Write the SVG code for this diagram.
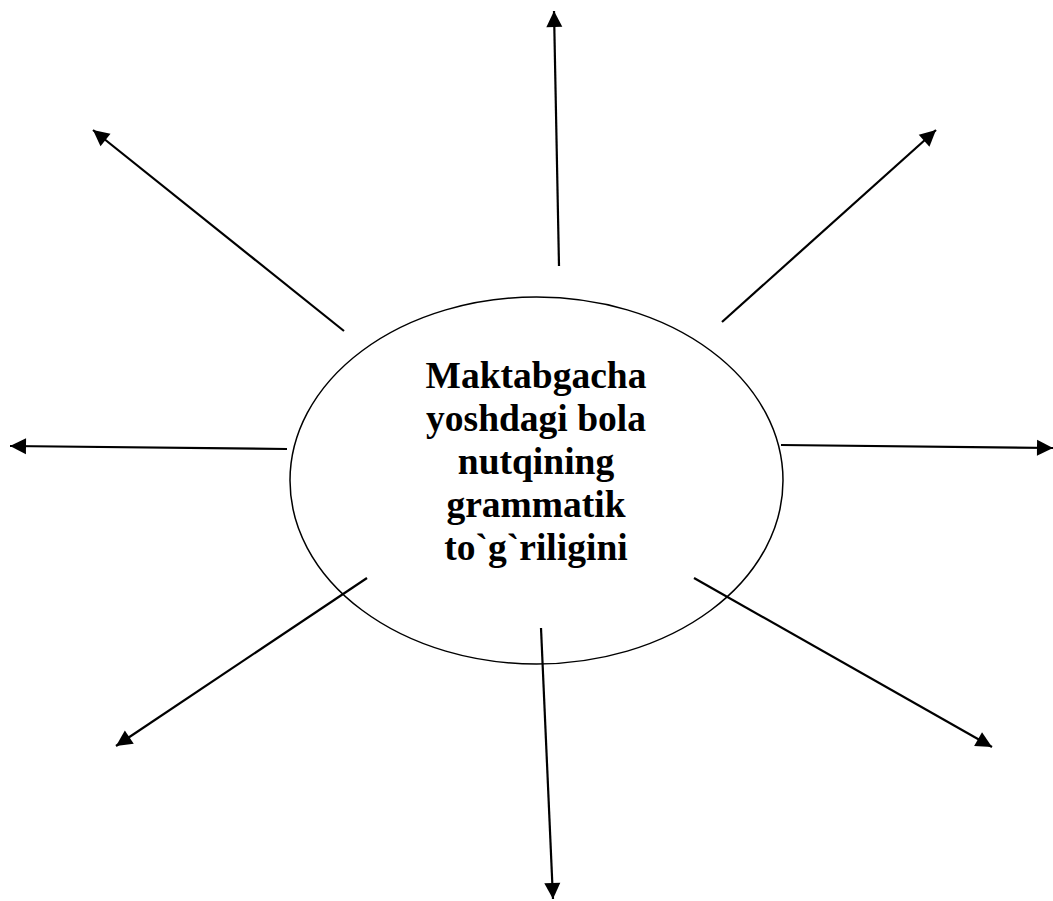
<svg xmlns="http://www.w3.org/2000/svg" width="1053" height="901" viewBox="0 0 1053 901">
<style>
.c{stroke:#000;stroke-width:2.2;fill:none;marker-end:url(#ah)}
.t{font-family:"Liberation Serif","Times New Roman",serif;font-weight:bold;font-size:37.5px;fill:#000;text-anchor:middle}
</style>
<defs>
<marker id="ah" markerUnits="userSpaceOnUse" markerWidth="18" markerHeight="18" viewBox="0 0 18 18" refX="17" refY="9" orient="auto">
<path d="M1,1 L17,9 L1,17 Z" fill="#000"/>
</marker>
</defs>
<rect width="1053" height="901" fill="#fff"/>
<g id="center">
<ellipse cx="536.5" cy="480.5" rx="246.5" ry="183.5" fill="#fff" stroke="#000" stroke-width="1.5"/>
<text class="t" x="536" y="388">Maktabgacha</text>
<text class="t" x="536" y="431">yoshdagi bola</text>
<text class="t" x="536" y="474">nutqining</text>
<text class="t" x="536" y="517">grammatik</text>
<text class="t" x="536" y="560">to`g`riligini</text>
</g>
<g id="connectors">
<line class="c" x1="559" y1="266" x2="554" y2="11"/>
<line class="c" x1="344" y1="331" x2="93" y2="130"/>
<line class="c" x1="722" y1="322" x2="936" y2="130"/>
<line class="c" x1="287" y1="449" x2="10" y2="446"/>
<line class="c" x1="781" y1="445" x2="1053" y2="448"/>
<line class="c" x1="367" y1="578" x2="116" y2="746"/>
<line class="c" x1="694" y1="578" x2="992" y2="747"/>
<line class="c" x1="541" y1="628" x2="553" y2="899"/>
</g>
</svg>
